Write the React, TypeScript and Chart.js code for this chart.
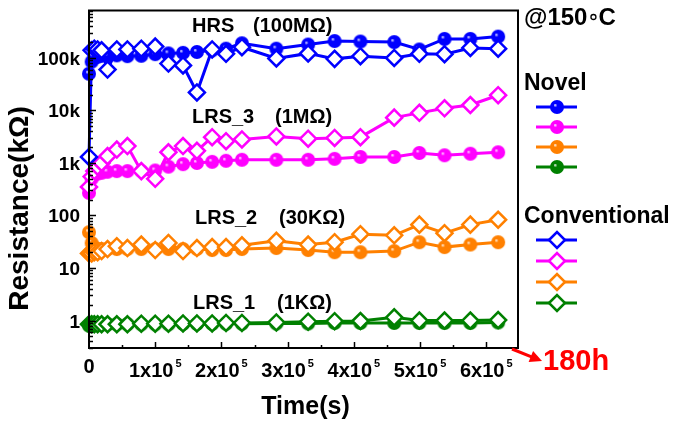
import React, { useEffect, useRef } from 'react';
import { Chart, registerables } from 'chart.js';

Chart.register(...registerables);

// ---- data ----
const timeSec = [0, 4000, 8000, 13000, 19000, 28000, 42000, 58000, 79000, 100000, 120000, 142000, 163000, 186000, 207000, 231000, 283000, 331000, 371000, 410000, 461000, 499000, 537000, 576000, 618000];

// Novel (filled spheres)
const hrsNovel = [50000, 85000, 100000, 105000, 110000, 110000, 112000, 108000, 110000, 118000, 122000, 125000, 130000, 140000, 150000, 190000, 150000, 180000, 210000, 205000, 200000, 145000, 230000, 230000, 255000];
const lrs3Novel = [270, 500, 600, 630, 650, 680, 700, 700, 700, 720, 850, 950, 1000, 1050, 1100, 1150, 1150, 1150, 1200, 1300, 1300, 1550, 1400, 1500, 1600];
const lrs2Novel = [48, 30, 25, 23, 23, 23, 23, 23, 23, 23, 23, 23, 23, 22, 22, 23, 24, 22, 20, 20, 21, 31, 25, 28, 31];
const lrs1Novel = [0.8, 0.82, 0.83, 0.84, 0.85, 0.85, 0.85, 0.85, 0.85, 0.85, 0.85, 0.86, 0.86, 0.86, 0.87, 0.87, 0.88, 0.88, 0.9, 0.9, 0.9, 0.9, 0.9, 0.9, 0.92];

// Conventional (open diamonds)
const hrsConv = [1300, 140000, 150000, 145000, 140000, 60000, 145000, 145000, 150000, 165000, 78000, 72000, 22000, 145000, 120000, 160000, 98000, 122000, 96000, 108000, 100000, 120000, 118000, 155000, 150000];
const lrs3Conv = [350, 550, 700, 850, 1000, 1350, 1800, 2100, 700, 500, 1600, 2100, 1700, 3100, 2600, 2800, 3200, 2900, 3000, 3100, 7300, 9000, 11000, 12700, 19500];
const lrs2Conv = [19, 19, 20, 20, 21, 23, 26, 24, 28, 22, 30, 21, 24, 25, 25, 27, 33, 28, 31, 44, 42, 67, 46, 67, 83];
const lrs1Conv = [0.85, 0.85, 0.85, 0.85, 0.85, 0.85, 0.85, 0.85, 0.87, 0.87, 0.87, 0.88, 0.88, 0.88, 0.9, 0.9, 0.92, 0.95, 0.97, 0.98, 1.15, 1.0, 1.0, 1.0, 1.02];

const seriesColors = ['#0000ff', '#ff00ff', '#ff8000', '#008000'];

const yTickValues = [1, 10, 100, 1000, 10000, 100000];
const yTickLabels = ['1', '10', '100', '1k', '10k', '100k'];
const xTickValues = [0, 100000, 200000, 300000, 400000, 500000, 600000];
const xTickMantissa = ['0', '1x10', '2x10', '3x10', '4x10', '5x10', '6x10'];
const xTickExponent = ['', '5', '5', '5', '5', '5', '5'];

const annotationNames = ['HRS', 'LRS_3', 'LRS_2', 'LRS_1'];
const annotationSpecs = ['(100MΩ)', '(1MΩ)', '(30KΩ)', '(1KΩ)'];

const FONT = '"Liberation Sans", Arial, Helvetica, sans-serif';

function makeBall(color: string, r: number): HTMLCanvasElement {
  const c = document.createElement('canvas');
  const s = Math.ceil(r * 2 + 2);
  c.width = s;
  c.height = s;
  const g = c.getContext('2d')!;
  const cx = s / 2, cy = s / 2;
  const grad = g.createRadialGradient(cx - r * 0.3, cy - r * 0.3, 0, cx, cy, r);
  grad.addColorStop(0, '#ffffff');
  grad.addColorStop(0.28, color);
  grad.addColorStop(1, color);
  g.fillStyle = grad;
  g.beginPath();
  g.arc(cx, cy, r, 0, Math.PI * 2);
  g.fill();
  return c;
}

function drawDiamond(ctx: CanvasRenderingContext2D, x: number, y: number, r: number, color: string) {
  ctx.beginPath();
  ctx.moveTo(x - r, y);
  ctx.lineTo(x, y - r);
  ctx.lineTo(x + r, y);
  ctx.lineTo(x, y + r);
  ctx.closePath();
  ctx.fillStyle = '#ffffff';
  ctx.fill();
  ctx.lineWidth = 2.5;
  ctx.strokeStyle = color;
  ctx.stroke();
}

export default function App() {
  const canvasRef = useRef<HTMLCanvasElement | null>(null);

  useEffect(() => {
    const canvas = canvasRef.current;
    if (!canvas) return;
    const balls = seriesColors.map((c) => makeBall(c, 7));
    const novel = [hrsNovel, lrs3Novel, lrs2Novel, lrs1Novel];
    const conv = [hrsConv, lrs3Conv, lrs2Conv, lrs1Conv];

    const datasets: any[] = [];
    conv.forEach((vals, i) => {
      datasets.push({
        label: 'Conventional ' + i,
        data: timeSec.map((t, j) => ({ x: t, y: vals[j] })),
        borderColor: seriesColors[i],
        borderWidth: 3,
        pointStyle: 'rectRot',
        pointRadius: 8,
        pointBorderWidth: 2.5,
        pointBackgroundColor: '#ffffff',
        pointBorderColor: seriesColors[i],
        clip: false,
        order: 0,
      });
    });
    novel.forEach((vals, i) => {
      datasets.push({
        label: 'Novel ' + i,
        data: timeSec.map((t, j) => ({ x: t, y: vals[j] })),
        borderColor: seriesColors[i],
        borderWidth: 3,
        pointStyle: balls[i],
        pointRadius: 7,
        clip: false,
        order: 1,
      });
    });

    const customPlugin = {
      id: 'customDecor',
      beforeDraw(chart: any) {
        const ctx = chart.ctx;
        ctx.save();
        ctx.fillStyle = '#ffffff';
        ctx.fillRect(0, 0, chart.width, chart.height);
        ctx.restore();
      },
      afterDatasetsDraw(chart: any) {
        const ctx: CanvasRenderingContext2D = chart.ctx;
        const a = chart.chartArea;
        const xs = chart.scales.x;
        const ys = chart.scales.y;
        ctx.save();
        ctx.strokeStyle = '#000000';
        ctx.lineWidth = 2;
        ctx.strokeRect(a.left, a.top, a.right - a.left, a.bottom - a.top);
        // y ticks (inside)
        ctx.lineWidth = 1.5;
        for (let d = -1; d <= 6; d++) {
          for (let m = 1; m <= 9; m++) {
            const v = m * Math.pow(10, d);
            if (v < ys.min || v > ys.max) continue;
            const y = Math.round(ys.getPixelForValue(v)) + 0.5;
            const len = m === 1 ? 7 : 4;
            ctx.beginPath();
            ctx.moveTo(a.left, y);
            ctx.lineTo(a.left + len, y);
            ctx.stroke();
          }
        }
        // x ticks (inside)
        for (let v = 50000; v <= xs.max; v += 50000) {
          const x = Math.round(xs.getPixelForValue(v)) + 0.5;
          const len = v % 100000 === 0 ? 6 : 3;
          ctx.beginPath();
          ctx.moveTo(x, a.bottom);
          ctx.lineTo(x, a.bottom - len);
          ctx.stroke();
        }
        ctx.restore();
      },
      afterDraw(chart: any) {
        const ctx: CanvasRenderingContext2D = chart.ctx;
        const a = chart.chartArea;
        const xs = chart.scales.x;
        const ys = chart.scales.y;
        ctx.save();
        ctx.fillStyle = '#000000';
        // y tick labels
        ctx.font = 'bold 19px ' + FONT;
        ctx.textAlign = 'right';
        ctx.textBaseline = 'alphabetic';
        yTickValues.forEach((v, i) => {
          const y = ys.getPixelForValue(v);
          ctx.fillText(yTickLabels[i], a.left - 9, y + 7);
        });
        // x tick labels
        ctx.textAlign = 'left';
        xTickValues.forEach((v, i) => {
          const x = xs.getPixelForValue(v);
          ctx.font = 'bold 20px ' + FONT;
          const wm = ctx.measureText(xTickMantissa[i]).width;
          if (!xTickExponent[i]) {
            ctx.fillText(xTickMantissa[i], x - wm / 2, a.bottom + 25);
            return;
          }
          ctx.font = 'bold 11px ' + FONT;
          const we = ctx.measureText(xTickExponent[i]).width;
          const total = wm + 2 + we;
          const sx = x - total / 2;
          ctx.font = 'bold 20px ' + FONT;
          ctx.fillText(xTickMantissa[i], sx, a.bottom + 29);
          ctx.font = 'bold 11px ' + FONT;
          ctx.fillText(xTickExponent[i], sx + wm + 2, a.bottom + 19);
        });
        // axis titles
        ctx.font = 'bold 25px ' + FONT;
        ctx.textAlign = 'center';
        ctx.fillText('Time(s)', (a.left + a.right) / 2 + 2, a.bottom + 66);
        ctx.save();
        ctx.translate(28, 208.5);
        ctx.rotate(-Math.PI / 2);
        ctx.font = 'bold 28px ' + FONT;
        ctx.textAlign = 'center';
        ctx.fillText('Resistance(kΩ)', 0, 0);
        ctx.restore();

        // annotations inside plot
        const annX = [192, 192, 195, 193];
        const annSpecX = [253, 275, 279, 277];
        const annY = [25, 116, 217, 302];
        ctx.font = 'bold 20px ' + FONT;
        ctx.textAlign = 'left';
        annotationNames.forEach((n, i) => {
          ctx.fillText(n, annX[i], annY[i] + 7);
          ctx.fillText(annotationSpecs[i], annSpecX[i], annY[i] + 7);
        });

        // legend area
        const lx = a.right + 6;
        ctx.font = 'bold 24px ' + FONT;
        ctx.fillText('@150', lx, 25);
        const w150 = ctx.measureText('@150').width;
        ctx.beginPath();
        ctx.lineWidth = 1.3;
        ctx.strokeStyle = '#000000';
        ctx.arc(lx + w150 + 6, 17, 2.5, 0, Math.PI * 2);
        ctx.stroke();
        ctx.fillText('C', lx + w150 + 11, 25);

        ctx.font = 'bold 23px ' + FONT;
        ctx.fillText('Novel', lx, 90);
        ctx.fillText('Conventional', lx, 223);

        const novelRows = [107, 127, 147, 167];
        const convRows = [240, 261, 282, 303];
        const mx = lx + 33;
        seriesColors.forEach((c, i) => {
          ctx.strokeStyle = c;
          ctx.lineWidth = 3;
          ctx.beginPath();
          ctx.moveTo(mx - 21, novelRows[i]);
          ctx.lineTo(mx + 20, novelRows[i]);
          ctx.stroke();
          const b = balls[i];
          ctx.drawImage(b, mx - b.width / 2, novelRows[i] - b.height / 2);

          ctx.strokeStyle = c;
          ctx.lineWidth = 3;
          ctx.beginPath();
          ctx.moveTo(mx - 21, convRows[i]);
          ctx.lineTo(mx + 20, convRows[i]);
          ctx.stroke();
          drawDiamond(ctx, mx, convRows[i], 8, c);
        });

        // red arrow and 180h
        ctx.strokeStyle = '#ff0000';
        ctx.fillStyle = '#ff0000';
        ctx.lineWidth = 3;
        const x0 = a.right - 6, y0 = a.bottom + 1;
        const x1 = a.right + 24, y1 = a.bottom + 13;
        ctx.beginPath();
        ctx.moveTo(x0, y0);
        ctx.lineTo(x1 - 8, y1 - 3.2);
        ctx.stroke();
        const ang = Math.atan2(y1 - y0, x1 - x0);
        ctx.beginPath();
        ctx.moveTo(x1, y1);
        ctx.lineTo(x1 - 12 * Math.cos(ang) + 6 * Math.sin(ang), y1 - 12 * Math.sin(ang) - 6 * Math.cos(ang));
        ctx.lineTo(x1 - 12 * Math.cos(ang) - 6 * Math.sin(ang), y1 - 12 * Math.sin(ang) + 6 * Math.cos(ang));
        ctx.closePath();
        ctx.fill();
        ctx.font = 'bold 29px ' + FONT;
        ctx.textAlign = 'left';
        ctx.fillText('180h', a.right + 25, a.bottom + 22);
        ctx.restore();
      },
    };

    const chart = new Chart(canvas, {
      type: 'line',
      data: { datasets },
      options: {
        responsive: false,
        devicePixelRatio: 1,
        animation: false,
        events: [],
        layout: { padding: { left: 89, right: 157, top: 4, bottom: 75 } },
        plugins: { legend: { display: false }, tooltip: { enabled: false }, title: { display: false } },
        scales: {
          x: { type: 'linear', min: 0, max: 648000, display: false },
          y: { type: 'logarithmic', min: 0.3, max: 800000, display: false },
        },
      },
      plugins: [customPlugin],
    });
    return () => chart.destroy();
  }, []);

  return (
    <div style={{ position: 'fixed', left: 0, top: 0, width: 675, height: 423, background: '#fff' }}>
      <canvas ref={canvasRef} width={675} height={423} style={{ display: 'block', width: 675, height: 423 }} />
    </div>
  );
}
